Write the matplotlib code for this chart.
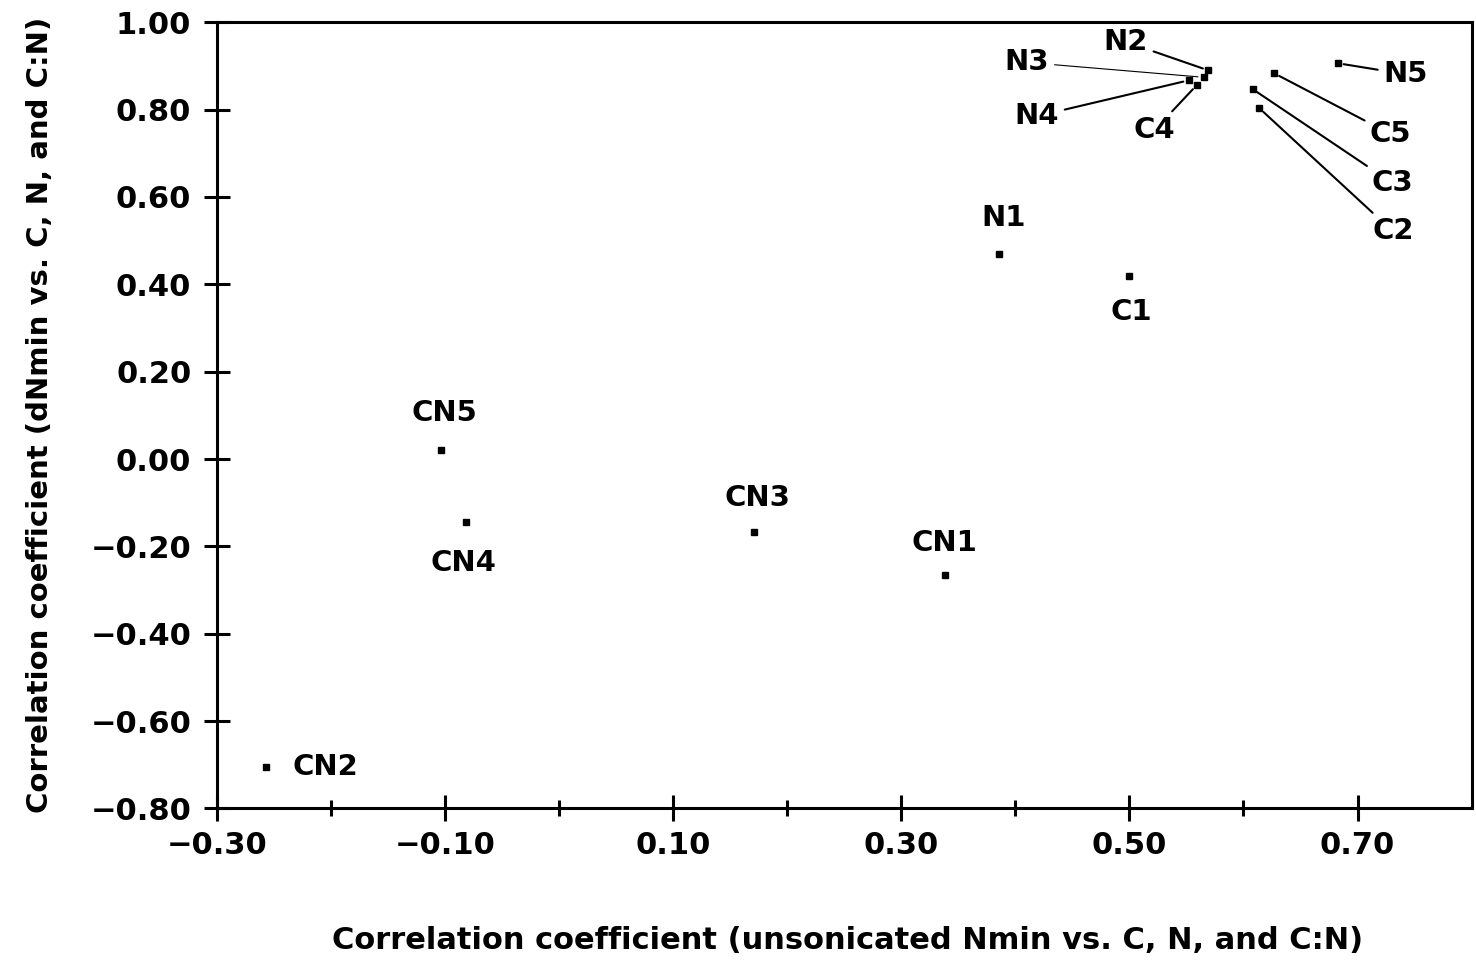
import matplotlib
matplotlib.use("Agg")
import matplotlib.pyplot as plt
from matplotlib.ticker import MultipleLocator, FuncFormatter

# points
names = ["CN2", "CN5", "CN4", "CN3", "CN1", "N1", "C1",
         "N2", "N3", "N4", "C4", "C5", "C3", "C2", "N5"]
x_unson = [-0.257, -0.104, -0.082, 0.171, 0.338, 0.386, 0.500,
           0.569, 0.565, 0.552, 0.559, 0.627, 0.608, 0.614, 0.683]
y_dnmin = [-0.706, 0.020, -0.145, -0.166, -0.266, 0.469, 0.418,
           0.890, 0.874, 0.867, 0.856, 0.883, 0.847, 0.803, 0.906]
# where each label sits (data units)
label_x = [-0.234, -0.101, -0.084, 0.174, 0.338, 0.390, 0.502,
           0.497, 0.410, 0.419, 0.522, 0.729, 0.731, 0.731, 0.742]
label_y = [-0.706, 0.105, -0.239, -0.090, -0.193, 0.551, 0.336,
           0.955, 0.908, 0.785, 0.753, 0.744, 0.631, 0.521, 0.881]
with_line = ["N2", "N3", "N4", "C4", "C5", "C3", "C2", "N5"]

plt.rcParams['font.family'] = ['DejaVu Sans']
plt.rcParams['font.weight'] = 'bold'
fs = 22

fig = plt.figure(figsize=(14.76, 9.67), dpi=100)
ax = fig.add_axes([0.147, 0.164, 0.850, 0.813])

ax.plot(x_unson, y_dnmin, 's', color='black', markersize=4, ls='none')

for i, nm in enumerate(names):
    ha = 'left' if nm == "CN2" else 'center'
    if nm in with_line:
        thin = nm == "N3"
        ax.annotate(nm, xy=(x_unson[i], y_dnmin[i]), xytext=(label_x[i], label_y[i]),
                    fontsize=21, fontweight='bold', ha=ha, va='center',
                    arrowprops=dict(arrowstyle='-', color='black',
                                    lw=0.8 if thin else 1.5,
                                    shrinkA=2, shrinkB=4))
    else:
        ax.text(label_x[i], label_y[i], nm, fontsize=21, fontweight='bold',
                ha=ha, va='center')

ax.set_xlim(-0.30, 0.80)
ax.set_ylim(-0.80, 1.00)
ax.yaxis.set_major_locator(MultipleLocator(0.2))

fmt = FuncFormatter(lambda v, p: ("%.2f" % v).replace("-", "\u2212"))
ax.xaxis.set_major_formatter(fmt)
ax.yaxis.set_major_formatter(fmt)
ax.set_xticks([-0.30, -0.10, 0.10, 0.30, 0.50, 0.70])
ax.set_xticks([-0.20, 0.00, 0.20, 0.40, 0.60], minor=True)

ax.tick_params(axis='both', which='major', direction='inout', length=19,
               width=2.2, labelsize=fs)
ax.tick_params(axis='y', which='major', pad=9)
ax.tick_params(axis='x', which='major', pad=7)
ax.tick_params(axis='x', which='minor', direction='inout', length=11, width=2.2)
for sp in ax.spines.values():
    sp.set_linewidth(2.2)

ax.set_xlabel("Correlation coefficient (unsonicated Nmin vs. C, N, and C:N)",
              fontsize=fs, fontweight='bold', va='center')
ax.set_ylabel("Correlation coefficient (dNmin vs. C, N, and C:N)", fontsize=21,
              fontweight='bold', va='center')
ax.xaxis.set_label_coords(0.503, -0.168)
ax.yaxis.set_label_coords(-0.141, 0.50)

fig.savefig("out.png", dpi=100)
